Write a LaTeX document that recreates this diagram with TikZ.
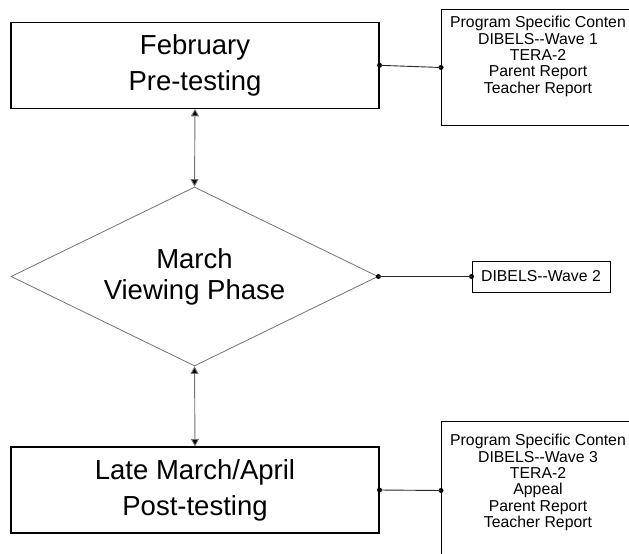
\documentclass[tikz,border=0pt]{standalone}
\usepackage{fontspec}
\setmainfont{Liberation Sans}
\usetikzlibrary{shapes.geometric,arrows.meta,calc}
\begin{document}
\begin{tikzpicture}[x=1pt,y=-1pt,
  phasebox/.style={draw=black,line width=1.1pt,inner sep=0pt,minimum width=368pt,minimum height=86pt,
    align=center,font=\fontsize{27.5}{36}\selectfont},
  phasediamond/.style={draw=black!55,line width=0.8pt,shape=diamond,aspect=2.04,inner sep=0pt,
    minimum width=367pt,minimum height=179pt,align=center,font=\fontsize{27.5}{31}\selectfont},
  infobox/.style={draw=black,line width=1pt,inner sep=0pt,anchor=north west},
  listtext/.style={align=center,inner sep=0pt,anchor=north,font=\fontsize{15.8}{16.4}\selectfont},
  link/.style={line width=0.9pt,draw=black!85},
  flow/.style={line width=0.9pt,draw=black!55,{Triangle[width=8pt,length=7.5pt,fill=black]}-{Triangle[width=8pt,length=7.5pt,fill=black]}},
  dot/.style={circle,fill=black,inner sep=0pt,minimum size=5pt}]
\useasboundingbox (0,0) rectangle (629,554);
\clip (0,0) rectangle (629,554);

% main phases
\node[phasebox] (feb) at (195,65.3) {February\\Pre-testing};
\node[phasediamond] (march) at (194.5,276.5) {March\\Viewing Phase};
\node[phasebox] (late) at (195,490) {Late March/April\\Post-testing};

% content boxes
\node[infobox,minimum width=196pt,minimum height=116pt] (c1) at (441,9) {};
\node[listtext] (c1t) at ($(c1.north)+(-1.5,7)$) {Program Specific Conten\\DIBELS-{}-Wave 1\\TERA-2\\Parent Report\\Teacher Report};

\node[draw=black,line width=1pt,inner sep=0pt,minimum width=138pt,minimum height=31pt,
  font=\fontsize{15.8}{18}\selectfont] (c2) at (541,276.5) {DIBELS-{}-Wave 2};

\node[infobox,minimum width=196pt,minimum height=138pt] (c3) at (441,421) {};
\node[listtext] (c3t) at ($(c3.north)+(-1.5,13)$) {Program Specific Conten\\DIBELS-{}-Wave 3\\TERA-2\\Appeal\\Parent Report\\Teacher Report};

% flow between phases
\draw[flow] (feb.south) -- (march.north);
\draw[flow] (march.south) -- (late.north);

% links to content
\node[dot] (d1a) at (feb.east) {};
\node[dot] (d1b) at (c1.west) {};
\draw[link] (d1a.center) -- (d1b.center);

\node[dot] (d2a) at (march.east) {};
\node[dot] (d2b) at (c2.west) {};
\draw[link] (d2a.center) -- (d2b.center);

\node[dot] (d3a) at (late.east) {};
\node[dot] (d3b) at (c3.west) {};
\draw[link] (d3a.center) -- (d3b.center);
\end{tikzpicture}
\end{document}
